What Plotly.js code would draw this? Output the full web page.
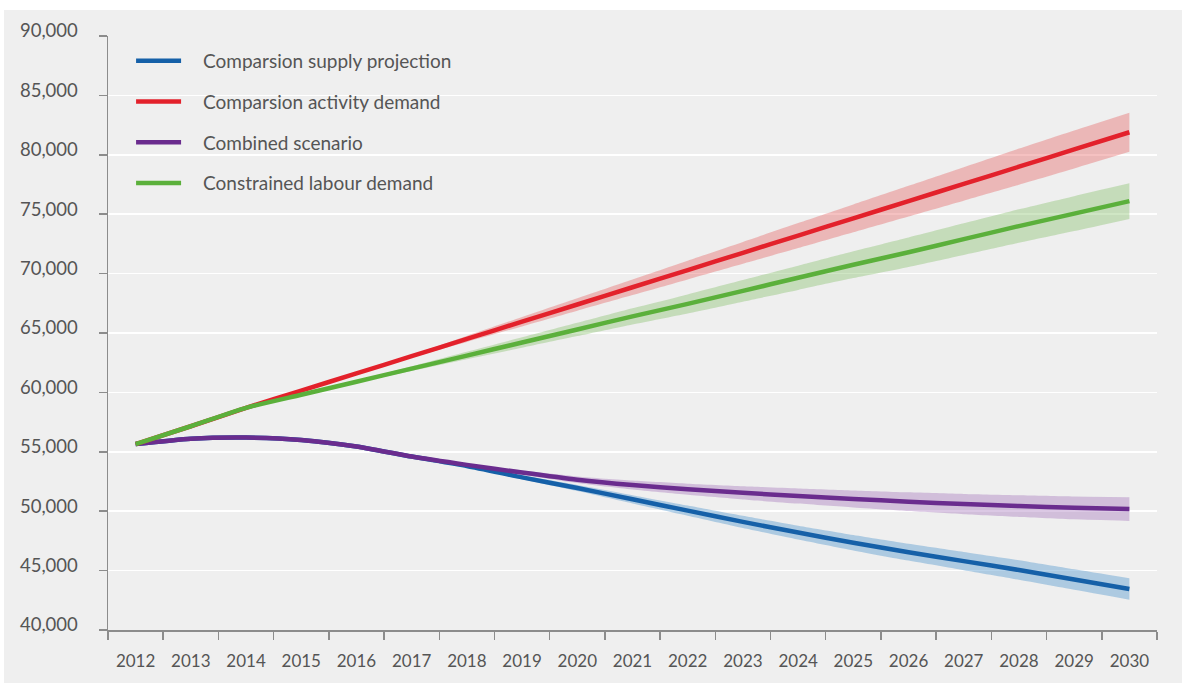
<!DOCTYPE html>
<html>
<head>
<meta charset="utf-8">
<script src="https://cdn.plot.ly/plotly-3.0.1.min.js"></script>
<style>html,body{margin:0;padding:0;background:#fff;}#chart{width:1182px;height:685px;}</style>
</head>
<body>
<div id="chart"></div>
<script>
const years = ["2012","2013","2014","2015","2016","2017","2018","2019","2020","2021","2022","2023","2024","2025","2026","2027","2028","2029","2030"];

const supplyProjection = [55650,56100,56200,56000,55450,54600,53800,52850,51950,51000,50050,49100,48200,47350,46550,45800,45050,44250,43450];
const activityDemand   = [55650,57150,58700,60150,61600,63050,64500,65950,67400,68850,70300,71750,73200,74650,76100,77550,79000,80450,81900];
const combinedScenario = [55650,56100,56200,56000,55450,54600,53900,53250,52650,52200,51850,51550,51280,51030,50800,50600,50430,50280,50180];
const labourDemand     = [55650,57150,58700,59800,60900,62000,63100,64200,65300,66400,67450,68550,69650,70750,71800,72900,74000,75050,76100];

// half-width of the shaded uncertainty band around each series
const supplyBand   = [0,0,0,0,0,0,80,170,260,350,430,510,580,650,710,770,820,860,900];
const activityBand = [0,0,0,0,0,100,250,400,530,660,790,920,1050,1170,1290,1410,1520,1600,1650];
const combinedBand = [0,0,0,0,0,0,80,180,280,380,470,560,640,720,790,850,910,960,1000];
const labourBand   = [0,0,0,0,80,200,320,440,560,680,800,910,1020,1130,1240,1330,1410,1470,1500];

const seriesNames = ["Comparsion supply projection","Comparsion activity demand","Combined scenario","Constrained labour demand"];

const pad = "\u00a0\u00a0\u00a0\u2009";

const series = [
  {name: seriesNames[0], y: supplyProjection, band: supplyBand, color: "#1560a8", fill: "rgba(80,150,205,0.42)", rank: 1},
  {name: seriesNames[2], y: combinedScenario, band: combinedBand, color: "#6a2c8e", fill: "rgba(160,110,185,0.38)", rank: 3},
  {name: seriesNames[1], y: activityDemand, band: activityBand, color: "#e3212b", fill: "rgba(230,100,100,0.40)", rank: 2},
  {name: seriesNames[3], y: labourDemand, band: labourBand, color: "#5bb03b", fill: "rgba(130,190,100,0.38)", rank: 4}
];

const traces = [];
series.forEach(s => {
  const upper = s.y.map((v, i) => v + s.band[i]);
  const lower = s.y.map((v, i) => v - s.band[i]);
  traces.push({x: years, y: upper, type: "scatter", mode: "lines", line: {width: 0, shape: "spline", smoothing: 0.6}, showlegend: false, hoverinfo: "skip"});
  traces.push({x: years, y: lower, type: "scatter", mode: "lines", line: {width: 0, shape: "spline", smoothing: 0.6}, fill: "tonexty", fillcolor: s.fill, showlegend: false, hoverinfo: "skip"});
});
series.forEach(s => {
  traces.push({x: years, y: s.y, type: "scatter", mode: "lines", name: pad + s.name, legendrank: s.rank,
    legendgroup: "g" + s.rank,
    line: {color: s.color, width: 4.5, shape: "spline", smoothing: 0.6}});
});

const textColor = "#555555";
const axisColor = "#8c8c8c";

const layout = {
  width: 1182, height: 685,
  margin: {l: 108, r: 25, t: 36, b: 55},
  paper_bgcolor: "#ffffff",
  plot_bgcolor: "rgba(0,0,0,0)",
  font: {family: "Lato, 'Open Sans', sans-serif", size: 17, color: textColor},
  showlegend: true,
  legend: {
    x: 0.022, y: 0.99, xanchor: "left", yanchor: "top",
    bgcolor: "rgba(0,0,0,0)", borderwidth: 0,
    font: {size: 19, color: textColor},
    traceorder: "grouped", tracegroupgap: 13, itemwidth: 45
  },
  xaxis: {
    type: "category",
    range: [-0.5, 18.5],
    showline: true, linecolor: axisColor, linewidth: 1.5,
    ticks: "outside", ticklen: 8, tickcolor: axisColor, tickwidth: 1.5,
    tickson: "boundaries",
    showgrid: false, zeroline: false,
    ticklabelstandoff: 15,
    tickfont: {size: 17, color: textColor}
  },
  yaxis: {
    range: [40000, 90000],
    tickvals: [40000,45000,50000,55000,60000,65000,70000,75000,80000,85000,90000],
    tickformat: ",d",
    showline: true, linecolor: axisColor, linewidth: 1.5,
    ticks: "outside", ticklen: 8, tickcolor: axisColor, tickwidth: 1.5,
    showgrid: true, gridcolor: "#ffffff", gridwidth: 1.5,
    zeroline: false,
    ticklabelstandoff: 17,
    ticklabelshift: -5,
    tickfont: {size: 18.5, color: textColor}
  },
  shapes: [{
    type: "rect", xref: "paper", yref: "paper", layer: "below",
    x0: -0.0991, x1: 1.03, y0: -0.0892, y1: 1.0438,
    fillcolor: "#efefef", line: {width: 0}
  }]
};

Plotly.newPlot("chart", traces, layout, {displayModeBar: false, staticPlot: true});
</script>
</body>
</html>
